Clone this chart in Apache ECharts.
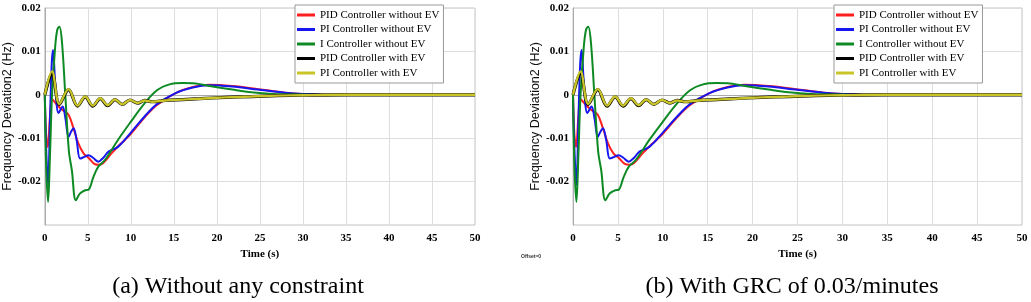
<!DOCTYPE html>
<html>
<head>
<meta charset="utf-8">
<title>Frequency Deviation2</title>
<script src="https://cdn.jsdelivr.net/npm/echarts@6/dist/echarts.min.js"></script>
<style>
html, body { margin: 0; padding: 0; background: #fff; }
#chart { width: 1031px; height: 302px; }
</style>
</head>
<body>
<div id="chart"></div>
<script>
// values (time in s, deviation in Hz)
// both panels show practically the same traces, so they share these arrays
var seriesNames = ['PID Controller without EV', 'PI Controller without EV', 'I Controller without EV',
                   'PID Controller with EV', 'PI Controller with EV'];
var seriesColors = ['#ff1f1f', '#1616f0', '#0e8a24', '#000000', '#c9c428'];
var xTicks = [0, 5, 10, 15, 20, 25, 30, 35, 40, 45, 50];
var captions = ['(a) Without any constraint', '(b) With GRC of 0.03/minutes'];

var pidTime = [0, 0.15, 0.35, 0.6, 0.84, 1.2, 1.6, 2.2, 2.76, 3.3, 3.9, 4.5, 5.07, 5.84, 6.3, 6.8, 7.75, 8.5, 9.3, 10, 11.6, 13, 15.2, 17.2, 19.1, 21.8, 24.8, 27.9, 30, 33, 36, 40, 45, 50];
var pidVals = [0, -0.009, -0.012, -0.005, -0.001, -0.0018, -0.0027, -0.0037, -0.0046, -0.0075, -0.0112, -0.0135, -0.0145, -0.016, -0.0161, -0.0157, -0.0135, -0.0119, -0.0104, -0.009, -0.0052, -0.0024, 0.0004, 0.0018, 0.0023, 0.002, 0.0013, 0.0005, 0.0002, 0, 0, 0, 0, 0];

var piTime = [0, 0.15, 0.38, 0.6, 0.8, 0.96, 1.2, 1.6, 2.07, 2.4, 2.76, 3.05, 3.34, 3.7, 4.1, 4.6, 5.07, 5.6, 6.2, 6.8, 7.4, 8.5, 10, 11.6, 13, 15.2, 17.2, 19.1, 21.8, 24.8, 27.9, 30, 33, 36, 40, 45, 50];
var piVals = [0, -0.012, -0.0208, -0.006, 0.007, 0.0103, 0.003, -0.0042, -0.0027, -0.0055, -0.0097, -0.0085, -0.0077, -0.0105, -0.0147, -0.0143, -0.0139, -0.0145, -0.0154, -0.0145, -0.0131, -0.012, -0.0087, -0.005, -0.0022, 0.0004, 0.0017, 0.0022, 0.0019, 0.0012, 0.0005, 0.0002, 0, 0, 0, 0, 0];

var iTime = [0, 0.15, 0.38, 0.6, 0.84, 1.2, 1.45, 1.7, 2.0, 2.38, 2.8, 3.15, 3.6, 4.1, 4.7, 5.07, 5.65, 6.2, 7.0, 8.5, 10, 11.5, 13, 14.5, 16, 17.5, 19.5, 21.8, 24, 26.5, 29, 32, 36, 40, 45, 50];
var iVals = [0, -0.016, -0.0247, -0.014, 0, 0.011, 0.015, 0.0157, 0.012, 0, -0.013, -0.0175, -0.0243, -0.0227, -0.022, -0.0219, -0.0189, -0.0166, -0.015, -0.0104, -0.0062, -0.0022, 0.001, 0.0024, 0.0027, 0.0026, 0.0019, 0.0012, 0.0006, 0.0002, 0.0001, 0, 0, 0, 0, 0];

var pidEvTime = [0, 0.84, 1.69, 2.76, 3.8, 4.7, 5.58, 6.45, 7.3, 8.15, 9.0, 9.9, 10.8, 11.6, 12.5, 14, 16, 18, 21, 24, 27, 30, 35, 40, 45, 50];
var pidEvVals = [0, 0.005, -0.0022, 0.0012, -0.0026, -0.0005, -0.0026, -0.0009, -0.0025, -0.0011, -0.0022, -0.0012, -0.0019, -0.0013, -0.0016, -0.0013, -0.0011, -0.0009, -0.0006, -0.0004, -0.0002, -0.0001, 0, 0, 0, 0];

var piEvTime = [0, 0.84, 1.69, 2.76, 3.8, 4.7, 5.58, 6.45, 7.3, 8.15, 9.0, 9.9, 10.8, 11.6, 12.5, 14, 16, 18, 21, 24, 27, 30, 35, 40, 45, 50];
var piEvVals = [0, 0.0054, -0.0021, 0.0013, -0.0025, -0.0004, -0.0025, -0.0008, -0.0024, -0.0011, -0.0022, -0.0012, -0.0019, -0.0013, -0.0016, -0.0013, -0.0011, -0.0009, -0.0006, -0.0004, -0.0002, -0.0001, 0, 0, 0, 0];

var traces = [
  [pidTime, pidVals, 2],
  [piTime, piVals, 2],
  [iTime, iVals, 2],
  [pidEvTime, pidEvVals, 3.2],
  [piEvTime, piEvVals, 2.4]
];

var myChart = echarts.init(document.getElementById('chart'));

var serif = '"Liberation Serif", "Times New Roman", serif';
var grids = [
  { left: 41, right: 556, top: 8, bottom: 77 },
  { left: 573, right: 9, top: 8, bottom: 77 }
];

function makeXAxis(idx) {
  return {
    type: 'value', gridIndex: idx, min: 0, max: 50, interval: 5,
    name: 'Time (s)', nameLocation: 'middle', nameGap: 24,
    nameTextStyle: { fontFamily: serif, fontSize: 11, fontWeight: 'bold', color: '#000' },
    axisLine: { lineStyle: { color: '#aaa' } },
    axisTick: { show: false },
    axisLabel: { margin: 8, fontFamily: serif, fontSize: 11, fontWeight: 'bold', color: '#000' },
    splitLine: { lineStyle: { color: '#dedede' } }
  };
}

function makeYAxis(idx) {
  return {
    type: 'value', gridIndex: idx, min: -0.03, max: 0.02, interval: 0.01,
    name: 'Frequency Deviation2 (Hz)', nameLocation: 'middle', nameGap: idx === 0 ? 27 : 29,
    nameTextStyle: { fontFamily: '"Liberation Sans", Arial, sans-serif', fontSize: 12.5, color: '#111' },
    axisLine: { show: true, lineStyle: { color: '#aaa' } },
    axisTick: { show: false },
    axisLabel: {
      margin: 4, fontFamily: serif, fontSize: 11, fontWeight: 'bold', color: '#000',
      formatter: function (v) {
        if (v < -0.025) return '';
        return String(Math.round(v * 100) / 100);
      }
    },
    splitLine: { lineStyle: { color: '#dedede' } }
  };
}

function makeLegend(left) {
  return {
    data: seriesNames, orient: 'vertical', left: left, top: 5,
    icon: 'rect', itemWidth: 18, itemHeight: 3, itemGap: 0.5,
    padding: [3, 4, 3, 2],
    backgroundColor: '#fff', borderColor: '#999', borderWidth: 1,
    selectedMode: false,
    textStyle: { fontFamily: serif, fontSize: 11, lineHeight: 14, color: '#000' }
  };
}

function caption(text, x) {
  return {
    type: 'text', x: x, y: 287,
    style: { text: text, align: 'center', verticalAlign: 'middle', fontFamily: serif, fontSize: 24, fill: '#000' }
  };
}

var series = [];
[0, 1].forEach(function (panel) {
  traces.forEach(function (tr, k) {
    series.push({
      name: seriesNames[k], type: 'line', xAxisIndex: panel, yAxisIndex: panel,
      data: tr[0].map(function (t, i) { return [t, tr[1][i]]; }),
      symbol: 'none', smooth: 0.35, color: seriesColors[k],
      lineStyle: { width: tr[2], color: seriesColors[k] },
      z: 2 + k, animation: false
    });
  });
});

myChart.setOption({
  animation: false,
  grid: grids.map(function (g) {
    return Object.assign({ show: true, borderColor: '#c4c4c4', borderWidth: 1 }, g);
  }),
  xAxis: [makeXAxis(0), makeXAxis(1)],
  yAxis: [makeYAxis(0), makeYAxis(1)],
  legend: [makeLegend(295), makeLegend(834)],
  series: series,
  graphic: [
    caption(captions[0], 238),
    caption(captions[1], 792),
    { type: 'text', x: 521, y: 257,
      style: { text: 'Offset=0', verticalAlign: 'middle', fontFamily: '"Liberation Sans", sans-serif', fontWeight: 'bold', fontSize: 5, fill: '#333' } }
  ]
});
</script>
</body>
</html>
